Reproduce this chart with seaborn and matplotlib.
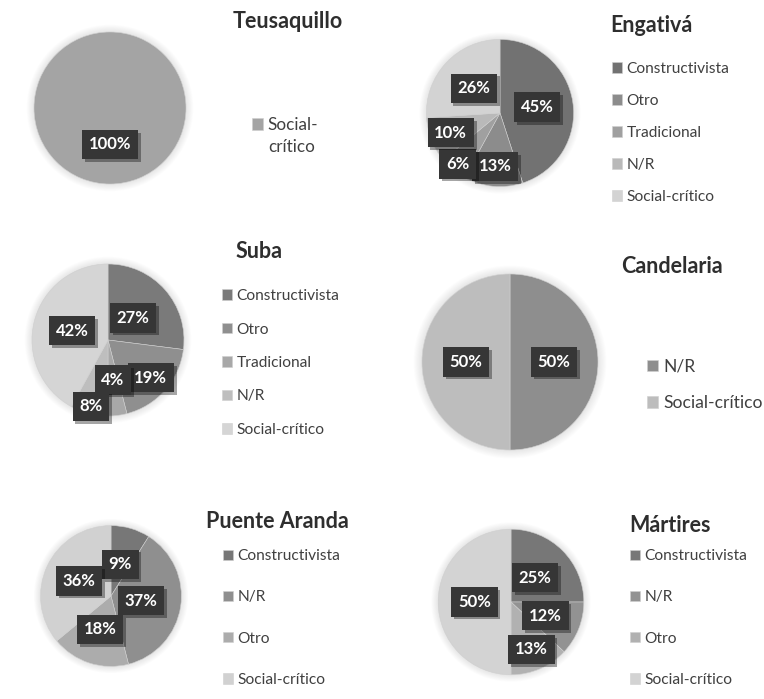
import matplotlib
matplotlib.use("Agg")
import numpy as np
import matplotlib.pyplot as plt
import matplotlib.patheffects as pe
from matplotlib.patches import Circle
import seaborn as sns

sns.set_theme(style="white")
plt.rcParams["font.family"] = ["Lato", "DejaVu Sans"]

# ---- data -------------------------------------------------------------
teusaquillo_cats = ["Social-crítico"]
teusaquillo_vals = [100]

engativa_cats = ["Constructivista", "Otro", "Tradicional", "N/R", "Social-crítico"]
engativa_vals = [45, 13, 6, 10, 26]

suba_cats = ["Constructivista", "Otro", "Tradicional", "N/R", "Social-crítico"]
suba_vals = [27, 19, 4, 8, 42]

candelaria_cats = ["N/R", "Social-crítico"]
candelaria_vals = [50, 50]

puente_cats = ["Constructivista", "N/R", "Otro", "Social-crítico"]
puente_vals = [9, 37, 18, 36]

martires_cats = ["Constructivista", "N/R", "Otro", "Social-crítico"]
martires_vals = [25, 12, 13, 50]

# ---- layout (pixels) --------------------------------------------------
W, H = 764, 699
fig = plt.figure(figsize=(W / 100, H / 100), dpi=100)
fig.patch.set_facecolor("white")

charts = [
    dict(title="Teusaquillo", cats=teusaquillo_cats, vals=teusaquillo_vals,
         center=(110, 108), r=95, colors=["#a4a4a4"], lr=[0.48],
         title_xy=(288, 22), leg_x=252, leg_y0=125, leg_dy=22, fs=12.3,
         wrap=True),
    dict(title="Engativá", cats=engativa_cats, vals=engativa_vals,
         center=(500, 113), r=92,
         colors=["#727272", "#8c8c8c", "#a0a0a0", "#b9b9b9", "#d3d3d3"],
         lr=[0.51, 0.73, 0.9, 0.72, 0.49],
         title_xy=(651, 25), leg_x=612, leg_y0=70, leg_dy=31.5, fs=11.2),
    dict(title="Suba", cats=suba_cats, vals=suba_vals,
         center=(108, 340), r=95,
         colors=["#7a7a7a", "#8f8f8f", "#a8a8a8", "#bebebe", "#d5d5d5"],
         lr=[0.44, 0.75, 0.53, 0.9, 0.49],
         title_xy=(259, 252), leg_x=222, leg_y0=297, leg_dy=33, fs=11.2),
    dict(title="Candelaria", cats=candelaria_cats, vals=candelaria_vals,
         center=(510, 362), r=110, colors=["#8e8e8e", "#bdbdbd"],
         lr=[0.5, 0.5],
         title_xy=(672, 267), leg_x=647, leg_y0=367, leg_dy=36, fs=12.6),
    dict(title="Puente Aranda", cats=puente_cats, vals=puente_vals,
         center=(111, 596), r=88,
         colors=["#777777", "#8f8f8f", "#acacac", "#d1d1d1"],
         lr=[0.47, 0.43, 0.5, 0.5],
         title_xy=(277, 522), leg_x=223, leg_y0=557, leg_dy=40.7, fs=11.2),
    dict(title="Mártires", cats=martires_cats, vals=martires_vals,
         center=(511, 602), r=91,
         colors=["#777777", "#929292", "#b1b1b1", "#d3d3d3"],
         lr=[0.47, 0.51, 0.71, 0.5],
         title_xy=(670, 525), leg_x=630, leg_y0=557, leg_dy=40.7, fs=11.2),
]

box_shadow = [pe.SimplePatchShadow(offset=(2, -2), shadow_rgbFace="black",
                                   alpha=0.35), pe.Normal()]

for c in charts:
    cx, cy = c["center"]
    r = c["r"]
    ax = fig.add_axes([(cx - r) / W, 1 - (cy + r) / H, 2 * r / W, 2 * r / H])
    ax.set_xlim(-1, 1)
    ax.set_ylim(-1, 1)
    ax.axis("off")

    # soft glow around the pie
    for k in range(1, 9):
        ax.add_patch(Circle((0, 0), 1 + 0.012 * k, fc="black", alpha=0.012,
                            lw=0, zorder=0, clip_on=False))

    wedges, _ = ax.pie(c["vals"], colors=c["colors"], startangle=90,
                       counterclock=False, radius=1,
                       wedgeprops=dict(edgecolor="#cfcfcf", linewidth=0.4))
    for w in wedges:
        w.set_zorder(1)

    # percentage tags
    for w, v, d in zip(wedges, c["vals"], c["lr"]):
        mid = np.deg2rad((w.theta1 + w.theta2) / 2)
        t = ax.text(d * np.cos(mid), d * np.sin(mid), f"{v}%",
                    ha="center", va="center", color="white",
                    fontsize=12, weight="bold", zorder=5,
                    bbox=dict(boxstyle="square,pad=0.4", fc="#363636",
                              ec="none"))
        t.get_bbox_patch().set_path_effects(box_shadow)

    # title
    tx, ty = c["title_xy"]
    fig.text(tx / W, 1 - ty / H, c["title"], ha="center", va="center",
             fontsize=15.5, weight="bold", color="#2e2e2e")

    # legend
    labels = list(c["cats"])
    if c.get("wrap"):
        labels = ["Social-"]
    n = len(labels)
    fs_px = c["fs"] * 100 / 72
    y_mid = c["leg_y0"] + c["leg_dy"] * (n - 1) / 2
    line_h = fs_px * 0.87
    spacing = (c["leg_dy"] - line_h) / fs_px
    leg = fig.legend(wedges, labels, loc="center left",
                     bbox_to_anchor=(c["leg_x"] / W, 1 - y_mid / H),
                     frameon=False, fontsize=c["fs"], labelcolor="#404040",
                     handlelength=0.65, handleheight=0.65, handletextpad=0.28,
                     borderpad=0, borderaxespad=0, labelspacing=spacing)
    if c.get("wrap"):
        fig.canvas.draw()
        ext = leg.get_texts()[0].get_window_extent()
        fig.text(ext.x0 / W, 1 - (c["leg_y0"] + c["leg_dy"]) / H, "crítico",
                 ha="left", va="center", fontsize=c["fs"], color="#404040")

fig.savefig("out.png", dpi=100, facecolor="white")
